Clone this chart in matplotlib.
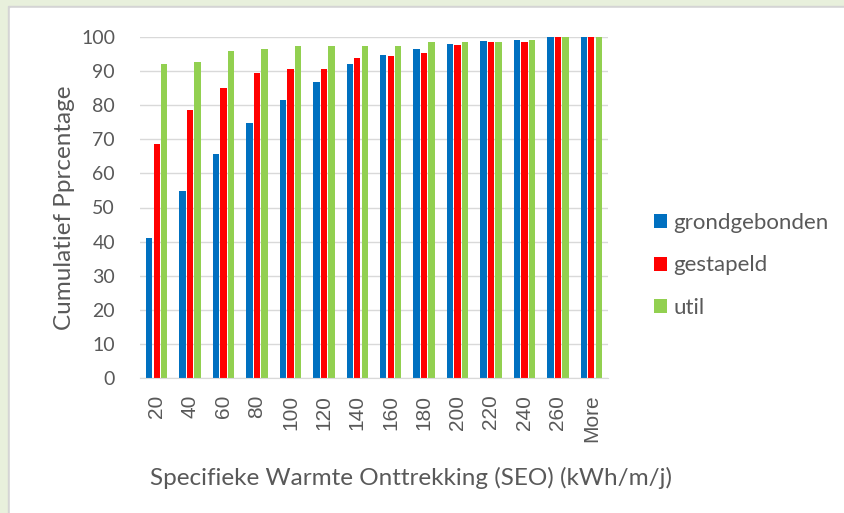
import numpy as np
import matplotlib.pyplot as plt
from matplotlib.patches import Rectangle

# cumulative percentage per SEO class
categories = ['20', '40', '60', '80', '100', '120', '140', '160', '180', '200', '220', '240', '260', 'More']
grondgebonden = [41.2, 54.7, 65.7, 74.7, 81.4, 86.7, 92.0, 94.6, 96.5, 98.0, 98.8, 99.2, 100, 100]
gestapeld = [68.7, 78.5, 84.9, 89.4, 90.5, 90.5, 93.8, 94.3, 95.4, 97.7, 98.4, 98.4, 100, 100]
util = [92.0, 92.8, 95.8, 96.5, 97.3, 97.3, 97.3, 97.3, 98.4, 98.4, 98.4, 99.2, 100, 100]

grey = '#595959'
plt.rcParams['font.family'] = ['Lato', 'DejaVu Sans']

fig = plt.figure(figsize=(8.45, 5.13), dpi=100)
# light green frame round the chart like the screenshot
fig.patches.append(Rectangle((0, 0), 1, 1, transform=fig.transFigure, color='#e8f0dc', zorder=-3))
fig.patches.append(Rectangle((8/845, 0), 1, 1 - 6/513, transform=fig.transFigure, color='#d4d4d4', zorder=-2))
fig.patches.append(Rectangle((10/845, 0), 1, 1 - 8/513, transform=fig.transFigure, color='white', zorder=-1))

ax = fig.add_axes([140/845, 1 - 378/513, 468/845, 341/513])
ax.patch.set_alpha(0)

x = np.arange(len(categories))
w = 0.19
step = 0.225
ax.bar(x - step, grondgebonden, w, color='#0070C0', label='grondgebonden', zorder=2)
ax.bar(x, gestapeld, w, color='#FF0000', label='gestapeld', zorder=2)
ax.bar(x + step, util, w, color='#92D050', label='util', zorder=2)

ax.set_xlim(-0.5, len(categories) - 0.5)
ax.set_ylim(0, 100)
ax.set_yticks(range(0, 101, 10))
ax.yaxis.grid(True, color='#d9d9d9', linewidth=1)
ax.set_axisbelow(True)
for s in ['top', 'right', 'left']:
    ax.spines[s].set_visible(False)
ax.spines['bottom'].set_color('#d9d9d9')
ax.tick_params(length=0, colors=grey, labelsize=14)
ax.tick_params(axis='y', pad=18)
ax.set_xticks(x)
ax.set_xticklabels(categories, rotation=90, family=['Liberation Sans', 'DejaVu Sans'], fontsize=15)
ax.tick_params(axis='x', pad=12)

ax.set_ylabel('Cumulatief Pprcentage', fontsize=17.5, color=grey, labelpad=4)
ax.set_xlabel('Specifieke Warmte Onttrekking (SEO) (kWh/m/j)', fontsize=17.5, color=grey, labelpad=14)
ax.xaxis.set_label_coords(0.58, -0.26)

ax.legend(loc='center left', bbox_to_anchor=(1.055, 0.33), frameon=False, fontsize=16,
          labelcolor=grey, handlelength=0.6, handleheight=0.6, handletextpad=0.3, labelspacing=1.0)

fig.savefig('out.png', dpi=100)
